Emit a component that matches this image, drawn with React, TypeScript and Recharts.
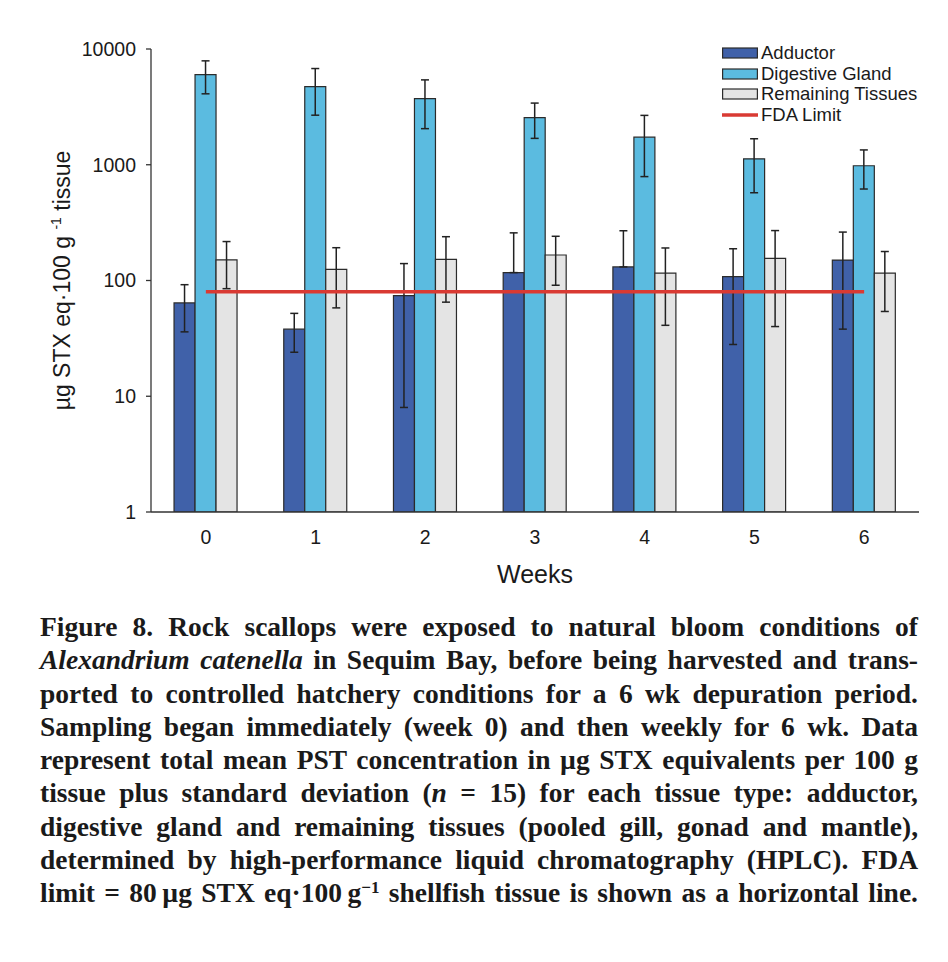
import React from "react";
import {
  ComposedChart,
  Bar,
  Line,
  XAxis,
  YAxis,
  Legend,
  ErrorBar,
  Label,
} from "recharts";

const weeks = ["0", "1", "2", "3", "4", "5", "6"];

const adductor = [64, 38, 74, 117, 131, 108, 150];
const adductorSd = [28, 14, 66, 141, 138, 80, 112];
const digestiveGland = [6000, 4730, 3730, 2550, 1730, 1125, 980];
const digestiveGlandSd = [1900, 2050, 1680, 860, 940, 552, 363];
const remainingTissues = [151, 125, 152, 166, 116, 155, 116];
const remainingTissuesSd = [66, 67, 87, 75, 75, 115, 62];
const fdaLimit = 80;

const yTicks = [1, 10, 100, 1000, 10000];

const seriesNames = ["Adductor", "Digestive Gland", "Remaining Tissues", "FDA Limit"];
const seriesColors = ["#4061a9", "#5bbbe0", "#e4e4e4", "#d93a33"];

// SD bars that would go below zero can't be drawn on a log axis, so only the upper half shows
const err = (mean: number, sd: number) => [sd < mean ? sd : 0, sd];

const data = weeks.map((w, i) => ({
  week: w,
  adductor: adductor[i],
  adductorErr: err(adductor[i], adductorSd[i]),
  digestive: digestiveGland[i],
  digestiveErr: err(digestiveGland[i], digestiveGlandSd[i]),
  remaining: remainingTissues[i],
  remainingErr: err(remainingTissues[i], remainingTissuesSd[i]),
  fda: fdaLimit,
}));

const barStroke = "#2b2b2b";
const errStroke = "#222";

function LegendBox() {
  return (
    <div style={{ fontSize: "18.5px", color: "#1a1a1a", lineHeight: "20.5px" }}>
      {seriesNames.map((name, i) => (
        <div key={name} style={{ display: "flex", alignItems: "center", height: "20.5px" }}>
          <svg width={36} height={12} style={{ flexShrink: 0 }}>
            {i < 3 ? (
              <rect x={0.6} y={1} width={34.8} height={10} fill={seriesColors[i]} stroke={barStroke} strokeWidth={1.2} />
            ) : (
              <line x1={0} y1={6} x2={36} y2={6} stroke={seriesColors[i]} strokeWidth={3.5} />
            )}
          </svg>
          <span style={{ marginLeft: "3px", whiteSpace: "nowrap" }}>{name}</span>
        </div>
      ))}
    </div>
  );
}

function YLabel() {
  const cx = 70;
  const cy = 280.5;
  return (
    <text
      x={cx}
      y={cy}
      transform={`rotate(-90 ${cx} ${cy})`}
      textAnchor="middle"
      fontSize={23}
      fill="#1a1a1a"
      fontFamily="'Liberation Sans', Arial, sans-serif"
    >
      µg STX eq·100 g <tspan fontSize={14} dy={-9}>-1</tspan>
      <tspan dy={9}> tissue</tspan>
    </text>
  );
}

const lineStyle: React.CSSProperties = {
  textAlign: "justify",
  textAlignLast: "justify",
  height: "33.3px",
  lineHeight: "33.3px",
};

export default function App() {
  return (
    <div
      style={{
        position: "absolute",
        left: 0,
        top: 0,
        width: 948,
        height: 962,
        background: "#fff",
        fontFamily: "'Liberation Sans', Arial, sans-serif",
      }}
    >
      <ComposedChart
        width={948}
        height={600}
        data={data}
        margin={{ top: 49, right: 29, bottom: 0, left: 0 }}
        barCategoryGap="21%"
        barGap={0}
      >
        <XAxis
          dataKey="week"
          height={88}
          tickLine={false}
          tickSize={6}
          tickMargin={12}
          axisLine={{ stroke: "#333", strokeWidth: 1.3 }}
          tick={{ fontSize: 19.5, fill: "#1a1a1a" }}
        >
          <Label value="Weeks" position="insideBottom" offset={17} fontSize={25} fill="#1a1a1a" />
        </XAxis>
        <YAxis
          type="number"
          scale="log"
          domain={[1, 10000]}
          ticks={yTicks}
          allowDataOverflow
          width={151}
          tickSize={5}
          tickMargin={10}
          axisLine={{ stroke: "#333", strokeWidth: 1.3 }}
          tickLine={{ stroke: "#333", strokeWidth: 1.3 }}
          tick={{ fontSize: 19.5, fill: "#1a1a1a" }}
          label={<YLabel />}
        />
        <Legend
          layout="vertical"
          align="center"
          verticalAlign="middle"
          wrapperStyle={{ top: 43, left: 722, width: 220 }}
          content={() => <LegendBox />}
        />
        <Bar dataKey="adductor" name={seriesNames[0]} fill={seriesColors[0]} stroke={barStroke} strokeWidth={1.2} isAnimationActive={false}>
          <ErrorBar dataKey="adductorErr" direction="y" width={4} stroke={errStroke} strokeWidth={1.5} />
        </Bar>
        <Bar dataKey="digestive" name={seriesNames[1]} fill={seriesColors[1]} stroke={barStroke} strokeWidth={1.2} isAnimationActive={false}>
          <ErrorBar dataKey="digestiveErr" direction="y" width={4} stroke={errStroke} strokeWidth={1.5} />
        </Bar>
        <Bar dataKey="remaining" name={seriesNames[2]} fill={seriesColors[2]} stroke={barStroke} strokeWidth={1.2} isAnimationActive={false}>
          <ErrorBar dataKey="remainingErr" direction="y" width={4} stroke={errStroke} strokeWidth={1.5} />
        </Bar>
        <Line
          type="linear"
          dataKey="fda"
          name={seriesNames[3]}
          stroke={seriesColors[3]}
          strokeWidth={3.5}
          dot={false}
          activeDot={false}
          isAnimationActive={false}
        />
      </ComposedChart>

      <div
        style={{
          position: "absolute",
          left: 40,
          top: 610,
          width: 878,
          fontFamily: "'Liberation Serif', 'Times New Roman', serif",
          fontWeight: 700,
          fontSize: "27.5px",
          color: "#1a1a1a",
        }}
      >
        <div style={lineStyle}>Figure 8. Rock scallops were exposed to natural bloom conditions of</div>
        <div style={lineStyle}>
          <i>Alexandrium catenella</i> in Sequim Bay, before being harvested and trans-
        </div>
        <div style={lineStyle}>ported to controlled hatchery conditions for a 6 wk depuration period.</div>
        <div style={lineStyle}>Sampling began immediately (week 0) and then weekly for 6 wk. Data</div>
        <div style={lineStyle}>represent total mean PST concentration in µg STX equivalents per 100 g</div>
        <div style={lineStyle}>
          tissue plus standard deviation (<i>n</i> = 15) for each tissue type: adductor,
        </div>
        <div style={lineStyle}>digestive gland and remaining tissues (pooled gill, gonad and mantle),</div>
        <div style={lineStyle}>determined by high-performance liquid chromatography (HPLC). FDA</div>
        <div style={lineStyle}>
          limit = 80{"\u2009"}µg STX eq·100{"\u2009"}g
          <span style={{ fontSize: "0.62em", position: "relative", top: "-0.55em" }}>−1</span> shellfish tissue is
          shown as a horizontal line.
        </div>
      </div>
    </div>
  );
}
